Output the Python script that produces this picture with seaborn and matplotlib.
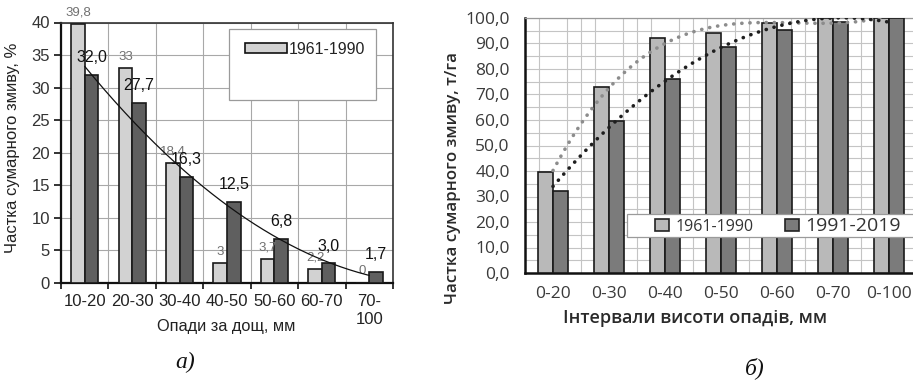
import numpy as np
import pandas as pd
import seaborn as sns
import matplotlib
matplotlib.use("Agg")
import matplotlib.pyplot as plt
from matplotlib.patches import Rectangle, Patch
from matplotlib.ticker import MultipleLocator, FuncFormatter

# ---------------- data ----------------
series = ["1961-1990", "1991-2019"]

cats_a = ["10-20", "20-30", "30-40", "40-50", "50-60", "60-70", "70-\n100"]
a_1961 = [39.8, 33.0, 18.4, 3.0, 3.7, 2.2, 0.0]
a_1991 = [32.0, 27.7, 16.3, 12.5, 6.8, 3.0, 1.7]
lab_a_1961 = ["39,8", "33", "18,4", "3", "3,7", "2,2", "0"]
lab_a_1991 = ["32,0", "27,7", "16,3", "12,5", "6,8", "3,0", "1,7"]

cats_b = ["0-20", "0-30", "0-40", "0-50", "0-60", "0-70", "0-100"]
b_1961 = [39.8, 72.8, 92.0, 94.2, 98.0, 100.0, 100.0]
b_1991 = [32.0, 59.7, 76.0, 88.5, 95.3, 98.3, 100.0]

# ---------------- style ----------------
sns.set_theme(style="white")
plt.rcParams["font.family"] = ["Liberation Sans", "DejaVu Sans"]

fig = plt.figure(figsize=(9.13, 3.82), dpi=100)

# ================= panel a =================
ax1 = fig.add_axes([61 / 913, 1 - 283 / 382, 332 / 913, 260.5 / 382])
df_a = pd.DataFrame({"cat": cats_a * 2, "val": a_1961 + a_1991,
                     "period": [series[0]] * 7 + [series[1]] * 7})
light_a, dark_a = "#d2d2d2", "#5f5f5f"
sns.barplot(data=df_a, x="cat", y="val", hue="period", hue_order=series,
            palette=[light_a, dark_a], saturation=1, width=0.57, gap=0,
            edgecolor="#1a1a1a", linewidth=1.2, legend=False, ax=ax1, zorder=3)
ax1.set_xlim(-0.5, 6.5)
ax1.set_ylim(0, 40)
ax1.set_yticks(np.arange(0, 41, 5))
ax1.set_xticks(np.arange(-0.5, 7, 1), minor=True)
ax1.grid(False)
ax1.yaxis.grid(True, color="#a8a8a8", lw=0.8, zorder=0)
ax1.xaxis.grid(True, which="minor", color="#a8a8a8", lw=0.8, zorder=0)
ax1.set_axisbelow(True)
ax1.tick_params(axis="x", which="major", length=0, pad=8, labelsize=12, labelcolor="#222222")
ax1.tick_params(axis="x", which="minor", length=4, width=1.2, direction="out", color="#111111", bottom=True)
ax1.tick_params(axis="y", length=5, width=1.2, direction="out", color="#111111", left=True,
                labelsize=12, labelcolor="#333333", pad=3)
for s in ["left", "bottom"]:
    ax1.spines[s].set_color("#111111")
    ax1.spines[s].set_linewidth(1.6)
for s in ["top", "right"]:
    ax1.spines[s].set_color("#333333")
    ax1.spines[s].set_linewidth(1.2)
ax1.set_xlabel("")
ax1.set_ylabel("")

ax1.bar_label(ax1.containers[0], labels=lab_a_1961, padding=4, fontsize=9.5,
              color="#707070")
ax1.bar_label(ax1.containers[1], labels=lab_a_1991, padding=7, fontsize=11.5,
              color="#111111")

# polynomial trend line of the 1991-2019 series
xa = np.arange(len(cats_a))
ca = np.polyfit(xa, a_1991, 2)
xs = np.linspace(0, 6, 200)
ax1.plot(xs, np.polyval(ca, xs), color="#111111", lw=0.9, zorder=4)

# legend box
ax1.add_patch(Rectangle((0.506, 0.702), 0.443, 0.273, transform=ax1.transAxes,
                        facecolor="white", edgecolor="#9a9a9a", lw=0.9, zorder=5))
leg1 = ax1.legend(handles=[Patch(facecolor=light_a, edgecolor="#111111", lw=1.2)],
                  labels=[series[0]], loc="center left", bbox_to_anchor=(0.555, 0.898),
                  frameon=False, handlelength=2.6, handleheight=0.6, handletextpad=0.15,
                  borderpad=0, borderaxespad=0, fontsize=11.5)
leg1.set_zorder(6)
leg1.get_texts()[0].set_color("#222222")

fig.text(226 / 913, 1 - 327 / 382, "Опади за дощ, мм", ha="center", va="center",
         fontsize=11.8, color="#222222")
fig.text(13 / 913, 1 - 148 / 382, "Частка сумарного змиву, %", ha="center", va="center",
         rotation=90, fontsize=12, color="#222222")
fig.text(185 / 913, 1 - 362 / 382, "а)", ha="center", va="center", fontsize=17,
         style="italic", family=["Liberation Serif", "DejaVu Serif"], color="#111111")

# ================= panel b =================
ax2 = fig.add_axes([525 / 913, 1 - 273 / 382, 392 / 913, 255 / 382])
df_b = pd.DataFrame({"cat": cats_b * 2, "val": b_1961 + b_1991,
                     "period": [series[0]] * 7 + [series[1]] * 7})
light_b, dark_b = "#b9b9b9", "#7b7b7b"
sns.barplot(data=df_b, x="cat", y="val", hue="period", hue_order=series,
            palette=[light_b, dark_b], saturation=1, width=0.55, gap=0.06,
            edgecolor="#1a1a1a", linewidth=1.2, legend=False, ax=ax2, zorder=3)
ax2.set_xlim(-0.5, 6.5)
ax2.set_ylim(0, 100)
ax2.yaxis.set_major_locator(MultipleLocator(10))
ax2.yaxis.set_minor_locator(MultipleLocator(5))
ax2.yaxis.set_major_formatter(FuncFormatter(lambda v, p: f"{v:.1f}".replace(".", ",")))
ax2.set_xticks(np.arange(-0.5, 6.6, 0.25), minor=True)
ax2.grid(False)
ax2.grid(True, which="both", color="#c4c4c4", lw=0.8, zorder=0)
ax2.xaxis.grid(False, which="major")
ax2.set_axisbelow(True)
ax2.tick_params(axis="both", which="both", length=0)
ax2.tick_params(axis="y", which="major", labelsize=12.5, labelcolor="#3a3a3a", pad=11)
ax2.tick_params(axis="x", which="major", labelsize=12.5, labelcolor="#3a3a3a", pad=9)
for s in ["left", "bottom"]:
    ax2.spines[s].set_color("#111111")
    ax2.spines[s].set_linewidth(1.8)
ax2.spines["right"].set_visible(False)
ax2.spines["top"].set_color("#999999")
ax2.spines["top"].set_linewidth(0.9)
ax2.set_xlabel("")
ax2.set_ylabel("")
for t in ax2.get_xticklabels() + ax2.get_yticklabels():
    t.set_family(["Open Sans", "DejaVu Sans"])

# trend lines (dotted)
xb = np.arange(len(cats_b))
xs2 = np.linspace(0, 6, 200)
c1 = np.polyfit(xb, b_1961, 3)
c2 = np.polyfit(xb, b_1991, 2)
ax2.plot(xs2, np.polyval(c1, xs2), color="#8c8c8c", lw=2.6,
         linestyle=(0, (0.05, 2.2)), dash_capstyle="round", zorder=4)
ax2.plot(xs2, np.polyval(c2, xs2), color="#1e1e1e", lw=2.6,
         linestyle=(0, (0.05, 2.2)), dash_capstyle="round", zorder=4)

# legend
ax2.add_patch(Rectangle((0.26, 0.141), 0.75, 0.090, transform=ax2.transAxes,
                        facecolor="white", edgecolor="#9a9a9a", lw=0.9, zorder=5))
leg2 = ax2.legend(handles=[Patch(facecolor=light_b, edgecolor="#222222", lw=1.2),
                           Patch(facecolor=dark_b, edgecolor="#222222", lw=1.2)],
                  labels=series, loc="center left", bbox_to_anchor=(0.332, 0.186),
                  ncol=2, frameon=False, handlelength=0.85, handleheight=0.85,
                  handletextpad=0.4, columnspacing=2.0, borderpad=0, borderaxespad=0,
                  prop={"family": ["Open Sans", "DejaVu Sans"], "size": 11.5})
leg2.set_zorder(6)
for t in leg2.get_texts():
    t.set_color("#333333")
leg2.get_texts()[1].set_fontsize(14)

fig.text(695 / 913, 1 - 318 / 382, "Інтервали висоти опадів, мм", ha="center", va="center",
         fontsize=13, color="#2a2a2a", weight="semibold", family=["Open Sans", "DejaVu Sans"])
fig.text(453 / 913, 1 - 178 / 382, "Частка сумарного змиву, т/га", ha="center", va="center",
         rotation=90, fontsize=12.2, color="#2a2a2a", weight="semibold",
         family=["Open Sans", "DejaVu Sans"])
fig.text(755 / 913, 1 - 368 / 382, "б)", ha="center", va="center", fontsize=17,
         style="italic", family=["Liberation Serif", "DejaVu Serif"], color="#111111")

fig.savefig("out.png", dpi=100)
